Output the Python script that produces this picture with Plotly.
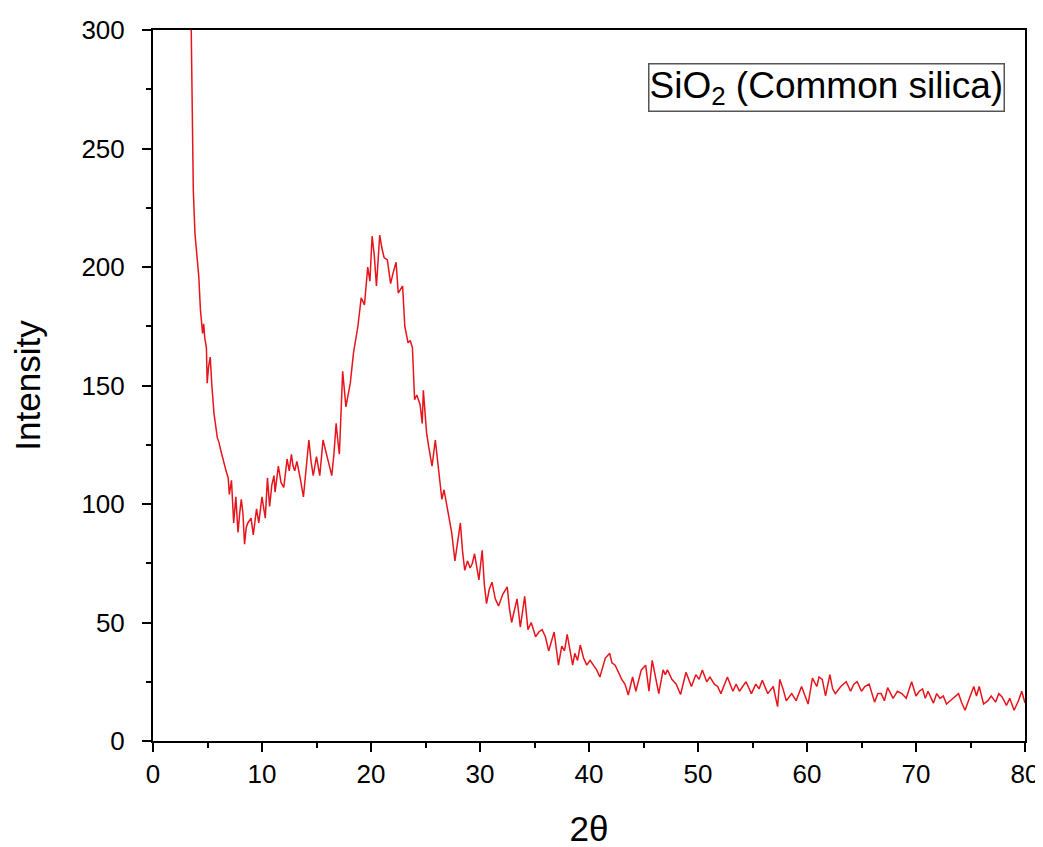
import plotly.graph_objects as go

two_theta = [3.45, 3.6, 3.7, 3.85, 3.95, 4.05, 4.2, 4.35, 4.45, 4.55, 4.65, 4.75, 4.9, 4.97, 5.1, 5.25, 5.4, 5.6, 5.9, 6.05,
             6.2, 6.4, 6.5, 6.7, 6.9, 7.0, 7.2, 7.4, 7.6, 7.8, 7.95, 8.1, 8.25, 8.4, 8.55, 8.7, 9.0, 9.2, 9.5, 9.7,
             10.0, 10.3, 10.5, 10.7, 10.9, 11.1, 11.2, 11.5, 11.75, 12.0, 12.3, 12.5, 12.7, 12.85, 13.0, 13.2, 13.5, 13.8, 14.05, 14.3,
             14.5, 14.7, 15.0, 15.15, 15.3, 15.6, 15.9, 16.1, 16.4, 16.6, 16.8, 16.95, 17.1, 17.4, 17.7, 17.9, 18.1, 18.4, 18.6, 18.8,
             19.1, 19.4, 19.7, 19.9, 20.1, 20.3, 20.5, 20.8, 21.0, 21.2, 21.5, 21.8, 22.0, 22.3, 22.5, 22.9, 23.1, 23.4, 23.6, 23.8,
             24.0, 24.2, 24.5, 24.7, 24.8, 25.1, 25.3, 25.6, 25.9, 26.2, 26.5, 26.7, 27.1, 27.4, 27.7, 28.0, 28.2, 28.4, 28.6, 28.85,
             29.1, 29.3, 29.5, 29.9, 30.2, 30.4, 30.6, 30.85, 31.1, 31.4, 31.7, 32.1, 32.5, 32.7, 32.9, 33.2, 33.4, 33.7, 34.1, 34.4,
             34.7, 35.1, 35.4, 35.7, 36.0, 36.3, 36.8, 37.2, 37.5, 37.75, 38.0, 38.5, 38.7, 38.95, 39.2, 39.5, 39.8, 40.1, 40.4, 40.7,
             41.0, 41.5, 41.9, 42.1, 42.4, 42.7, 43.0, 43.3, 43.6, 44.0, 44.3, 44.8, 45.2, 45.5, 45.8, 46.1, 46.4, 46.8, 47.0, 47.2,
             47.6, 48.0, 48.4, 48.9, 49.4, 49.8, 50.1, 50.4, 50.8, 51.1, 51.5, 51.8, 52.1, 52.7, 53.2, 53.5, 53.8, 54.1, 54.4, 54.9,
             55.3, 55.6, 55.9, 56.4, 56.9, 57.3, 57.5, 57.8, 58.1, 58.6, 59.0, 59.5, 59.8, 60.1, 60.5, 60.9, 61.1, 61.4, 61.7, 62.1,
             62.35, 62.6, 63.1, 63.6, 64.0, 64.3, 64.6, 65.0, 65.3, 65.7, 66.2, 66.5, 66.8, 67.1, 67.4, 67.9, 68.3, 68.7, 69.1, 69.6,
             70.0, 70.3, 70.6, 70.85, 71.1, 71.6, 71.9, 72.2, 72.5, 72.8, 73.3, 73.9, 74.2, 74.5, 74.9, 75.3, 75.55, 75.8, 76.2, 76.6,
             76.9, 77.3, 77.6, 77.9, 78.3, 78.6, 79.0, 79.4, 79.7, 80.0]

intensity = [320, 255, 232, 214, 208, 204, 196, 182, 178, 172, 176, 170, 166, 151, 158, 162, 150, 138, 128, 126,
             123, 119, 117, 114, 111, 104, 110, 92, 103, 88, 96, 102, 96, 83, 90, 92, 94, 87, 98, 92,
             103, 94, 111, 99, 108, 112, 105, 116, 109, 107, 119, 114, 121, 116, 114, 118, 111, 103, 115, 127,
             118, 112, 120, 116, 112, 127, 121, 118, 112, 121, 134, 127, 121, 156, 141, 146, 151, 164, 170, 175,
             187, 184, 200, 194, 213, 205, 192, 213.5, 208, 204, 203, 193, 197, 202, 189, 192, 175, 168, 169, 166,
             144, 146, 142, 134, 148, 130, 124, 116, 127, 113, 102, 106, 96, 88, 76, 86, 92, 80, 72, 76,
             73, 75, 79, 68, 80.5, 66, 58, 64, 67, 60, 57, 62, 65, 56, 50, 56, 60, 48, 61, 47,
             50, 44, 46, 47, 44, 38, 46, 32, 40, 38, 45, 32, 37, 34, 40.5, 35, 32, 34, 32, 30,
             27, 35, 37, 33, 32, 29, 26, 24, 19.4, 27, 21, 30, 32, 21, 34, 27, 20, 30, 28, 30,
             26, 24, 19.6, 29, 23, 28, 26, 30, 25, 27, 24, 23, 20, 27, 21, 24, 21, 23, 25, 20,
             24, 22, 25.6, 20, 23, 14.5, 26, 22, 17, 20, 17, 23, 19, 15.6, 26.5, 23, 27, 26, 19, 28,
             22, 20, 23, 25, 21, 24, 25, 21, 23, 24, 16.4, 20, 20, 17, 22.5, 18, 21, 20, 18, 25,
             19, 21, 22, 18, 21, 16, 20, 18, 19, 15.6, 17.6, 20, 16, 13, 18, 23, 19, 23, 15.6, 17,
             19, 16.4, 20, 18.6, 15, 18, 13, 17, 21, 16]

x_ticks = [0, 10, 20, 30, 40, 50, 60, 70, 80]
y_ticks = [0, 50, 100, 150, 200, 250, 300]

FONT = "Liberation Sans, Arial"

fig = go.Figure()
fig.add_trace(go.Scatter(x=two_theta, y=intensity, mode="lines",
                         line=dict(color="#e8141c", width=1.5), showlegend=False))

axis_common = dict(showline=True, linecolor="black", linewidth=2, mirror=True,
                   ticks="outside", ticklen=9, tickwidth=2, tickcolor="black",
                   showgrid=False, zeroline=False, automargin=False,
                   tickfont=dict(family=FONT, size=26, color="black"))

fig.update_xaxes(range=[0, 80], tickvals=x_ticks, **axis_common,
                 minor=dict(ticks="outside", ticklen=5, tickwidth=2, tickcolor="black", dtick=5),
                 title=dict(text="2θ", font=dict(family=FONT, size=35, color="black"), standoff=28))
fig.update_yaxes(range=[0, 300], tickvals=y_ticks, **axis_common, ticklabelstandoff=12,
                 minor=dict(ticks="outside", ticklen=5, tickwidth=2, tickcolor="black", dtick=25),
                 title=dict(text="Intensity", font=dict(family=FONT, size=35, color="black"), standoff=30))

fig.add_annotation(xref="paper", yref="paper", x=0.977, y=0.9536, xanchor="right", yanchor="top",
                   text="SiO<sub>2</sub> (Common silica)", showarrow=False,
                   font=dict(family=FONT, size=37, color="black"),
                   bordercolor="#555555", borderwidth=1.5, borderpad=0, bgcolor="white")

# body of the page adds 8 px offset; margins compensate so plot area matches reference pixels
fig.update_layout(width=1043, height=847, margin=dict(l=145, r=26, t=22, b=114),
                  plot_bgcolor="white", paper_bgcolor="white")

fig.write_html("out.html")
